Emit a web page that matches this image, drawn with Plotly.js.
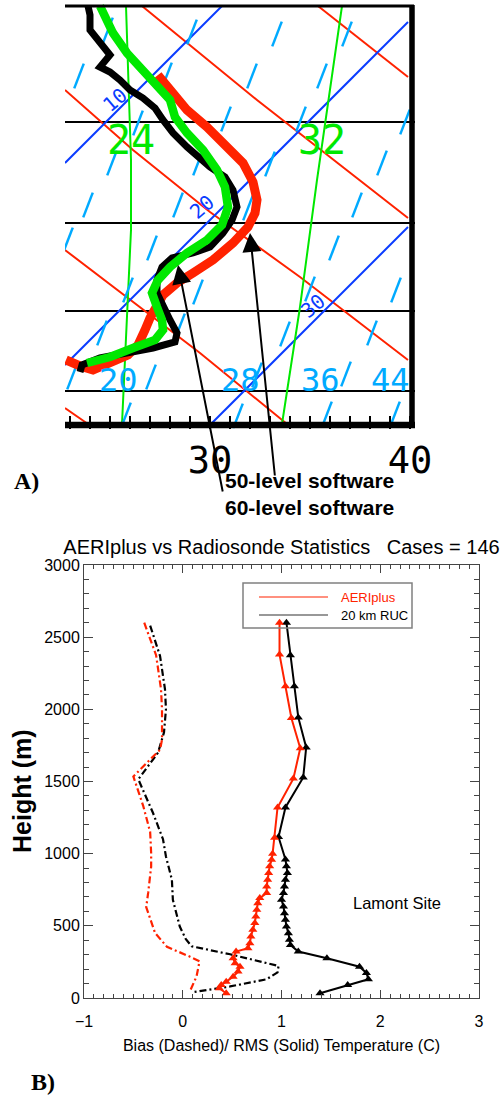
<!DOCTYPE html>
<html><head><meta charset="utf-8">
<script src="https://cdn.plot.ly/plotly-3.0.1.min.js"></script>
<style>html,body{margin:0;padding:0;background:#fff}#chart{width:503px;height:1097px}</style>
</head><body><div id="chart"></div>
<script>
// ---------------- Panel A (skew-T excerpt): x = temperature units, y = chart row ----------------
const isobarRows = [122, 223, 311, 391];

const dryAdiabatT = [[26.6, 32.35, 39.9], [35.4, 39.9], [22.75, 26.15, 30.0, 34.5, 39.9], [22.75, 29.5, 33.85], [22.75, 23.9]];
const dryAdiabatY = [[6, 100, 218], [6, 77], [90, 150, 212, 277, 360], [250, 353, 424], [408, 424]];

const isothermT = [[22.75, 30.6], [22.75, 39.9], [30.0, 39.9]];
const isothermY = [[163, 6], [365, 22], [425, 227]];
const isothermLabels = ['10', '20', '30'];
const isothermLabelT = [25.25, 29.6, 35.15];
const isothermLabelY = [100, 207, 306];

const mixingT = [[25.8, 26.05, 26.05, 25.85, 25.6], [36.6, 35.35, 34.5, 33.6]];
const mixingY = [[6, 160, 230, 310, 424], [6, 180, 307, 424]];
const mixingLabels = ['24', '32'];
const mixingLabelT = [26.05, 35.6];
const mixingLabelY = [140, 140];

const dashT = [24.9, 29.1, 33.35, 36.85, 23.45, 27.85, 32.1, 35.6, 26.4, 30.8, 34.55, 39.75,
  25.1, 29.4, 33.0, 38.6, 23.9, 28.4, 31.9, 37.35, 22.9, 27.1, 36.2, 25.9, 29.4, 35.0, 39.3,
  24.6, 28.5, 33.75, 38.1, 23.1, 27.05, 32.35, 36.8, 25.8, 31.4, 35.85, 39.25];
const dashY = [30, 32, 34, 34, 76, 75, 76, 76, 123, 119, 119, 122,
  163, 163, 164, 163, 205, 205, 208, 205, 240, 248, 248, 290, 292, 289, 290,
  333, 326, 334, 333, 377, 377, 375, 374, 415, 416, 414, 414];
const dashLabels = ['20', '28', '36', '44'];
const dashLabelT = [25.4, 31.5, 35.5, 39.0];
const dashLabelY = [380, 380, 380, 380];

// profiles
const level50T = [27.4, 28.1, 28.85, 29.85, 30.85, 31.65, 32.15, 32.35, 32.25, 31.9, 31.15, 30.15, 29.15, 28.35, 27.65, 27.25, 27.0, 26.75, 26.4, 25.9, 25.0, 24.15, 23.5, 22.8];
const level50Y = [75, 92, 110, 127, 147, 163, 182, 200, 213, 227, 243, 260, 273, 283, 295, 307, 318, 330, 345, 355, 363, 370, 366, 360];

const sondeT = [23.9, 24.0, 24.0, 24.5, 25.0, 24.5, 25.0, 25.5, 26.0, 26.65, 27.25, 27.65, 28.15, 28.85, 29.4, 30.0, 30.75, 31.15, 31.35, 31.1, 30.65, 30.0, 29.15, 28.1, 27.6, 27.35, 27.35, 27.65, 28.0, 28.35, 28.25, 27.15, 25.75, 24.5, 23.6, 23.5];
const sondeY = [6, 15, 30, 43, 55, 67, 72, 80, 90, 98, 108, 120, 133, 147, 157, 167, 177, 190, 207, 220, 233, 247, 253, 258, 267, 280, 293, 307, 320, 333, 342, 348, 353, 358, 365, 372];

const level60T = [24.5, 24.85, 25.15, 25.85, 26.5, 27.35, 28.0, 28.25, 28.85, 29.65, 30.35, 30.75, 30.9, 30.6, 29.85, 28.85, 28.0, 27.4, 27.1, 27.35, 27.6, 27.65, 27.25, 26.15, 25.0, 23.85];
const level60Y = [6, 20, 33, 53, 67, 83, 100, 117, 133, 150, 170, 187, 207, 225, 240, 253, 267, 280, 293, 307, 320, 330, 340, 348, 357, 363];

// ---------------- Panel B (statistics) ----------------
const aeriRmsH = [2600, 2380, 2160, 1940, 1730, 1520, 1320, 1110, 1000, 958, 912, 866, 819, 773, 727, 692, 657, 611, 565, 519, 472, 426, 380, 345, 322, 276, 241, 217, 183, 148, 113, 90, 67, 33];
const aeriRms = [0.98, 0.98, 1.04, 1.10, 1.19, 1.12, 0.96, 0.93, 0.91, 0.90, 0.88, 0.87, 0.86, 0.85, 0.85, 0.78, 0.76, 0.75, 0.74, 0.73, 0.71, 0.69, 0.68, 0.66, 0.54, 0.51, 0.53, 0.58, 0.56, 0.51, 0.44, 0.39, 0.37, 0.44];

const rucRmsH = [2600, 2375, 2160, 1944, 1736, 1528, 1320, 1115, 960, 912, 866, 819, 773, 727, 680, 634, 588, 542, 495, 449, 403, 368, 322, 276, 217, 174, 130, 90, 33];
const rucRms = [1.05, 1.09, 1.13, 1.17, 1.25, 1.22, 1.04, 0.97, 1.04, 1.05, 1.06, 1.04, 1.03, 1.02, 1.00, 1.02, 1.03, 1.04, 1.05, 1.07, 1.08, 1.09, 1.17, 1.46, 1.79, 1.86, 1.88, 1.67, 1.39];

const aeriBiasH = [2600, 2375, 2140, 2000, 1790, 1720, 1680, 1535, 1330, 1150, 1005, 910, 730, 630, 450, 355, 287, 255, 150, 80, 42];
const aeriBias = [-0.39, -0.27, -0.22, -0.21, -0.21, -0.23, -0.29, -0.50, -0.40, -0.33, -0.32, -0.32, -0.35, -0.37, -0.28, -0.16, 0.07, 0.17, 0.14, 0.09, 0.07];

const rucBiasH = [2580, 2370, 2140, 2000, 1840, 1700, 1515, 1360, 1280, 1100, 980, 820, 680, 495, 410, 358, 303, 222, 178, 130, 80, 40];
const rucBias = [-0.33, -0.23, -0.18, -0.17, -0.19, -0.25, -0.45, -0.35, -0.30, -0.20, -0.17, -0.11, -0.10, -0.03, 0.03, 0.09, 0.48, 0.97, 0.96, 0.85, 0.48, 0.10];

const seriesNames = ['AERIplus', '20 km RUC'];

// ---------------- styles ----------------
const RED = '#ff2200', GREEN = '#00e800', BLUE = '#0a3cff', CYAN = '#00aaff';
const SANS = 'Liberation Sans, Arial, sans-serif';
const SERIF = 'Liberation Serif, Times New Roman, serif';
const MONO = 'DejaVu Sans Mono, monospace';
const W = 503, H = 1097;
const px = v => v / W, py = r => 1 - r / H;

const traces = [];
const skip = {hoverinfo: 'skip', showlegend: false, xaxis: 'x', yaxis: 'y'};
dryAdiabatT.forEach((t, i) => traces.push(Object.assign({type: 'scatter', mode: 'lines', x: t, y: dryAdiabatY[i], line: {color: RED, width: 2}}, skip)));
isothermT.forEach((t, i) => traces.push(Object.assign({type: 'scatter', mode: 'lines', x: t, y: isothermY[i], line: {color: BLUE, width: 2}}, skip)));
mixingT.forEach((t, i) => traces.push(Object.assign({type: 'scatter', mode: 'lines', x: t, y: mixingY[i], line: {color: GREEN, width: 2}}, skip)));
traces.push(Object.assign({type: 'scatter', mode: 'markers', x: dashT, y: dashY,
  marker: {symbol: 'line-ns', size: 19, angle: 21, color: CYAN, line: {color: CYAN, width: 2.5}}}, skip));
traces.push(Object.assign({type: 'scatter', mode: 'lines', x: level50T, y: level50Y, line: {color: RED, width: 9}}, skip));
traces.push(Object.assign({type: 'scatter', mode: 'lines', x: sondeT, y: sondeY, line: {color: 'black', width: 7}}, skip));
traces.push(Object.assign({type: 'scatter', mode: 'lines', x: level60T, y: level60Y, line: {color: GREEN, width: 8.5}}, skip));

// panel B
const b = {showlegend: false, xaxis: 'x2', yaxis: 'y2', hoverinfo: 'skip'};
const dd = '7px,3px,2px,3px';
traces.push(Object.assign({type: 'scatter', mode: 'lines', name: seriesNames[1] + ' bias', x: rucBias, y: rucBiasH, line: {color: 'black', width: 2.2, dash: dd}}, b));
traces.push(Object.assign({type: 'scatter', mode: 'lines', name: seriesNames[0] + ' bias', x: aeriBias, y: aeriBiasH, line: {color: RED, width: 2.2, dash: dd}}, b));
traces.push(Object.assign({type: 'scatter', mode: 'lines+markers', name: seriesNames[1], x: rucRms, y: rucRmsH, line: {color: 'black', width: 2}, marker: {symbol: 'triangle-up', size: 8, color: 'black'}}, b));
traces.push(Object.assign({type: 'scatter', mode: 'lines+markers', name: seriesNames[0], x: aeriRms, y: aeriRmsH, line: {color: RED, width: 2}, marker: {symbol: 'triangle-up', size: 8, color: RED}}, b));

const annotations = [];
mixingLabels.forEach((s, i) => annotations.push({xref: 'x', yref: 'y', x: mixingLabelT[i], y: mixingLabelY[i], text: s, showarrow: false, font: {family: MONO, size: 40, color: GREEN}}));
dashLabels.forEach((s, i) => annotations.push({xref: 'x', yref: 'y', x: dashLabelT[i], y: dashLabelY[i], text: s, showarrow: false, font: {family: MONO, size: 32, color: CYAN}}));
isothermLabels.forEach((s, i) => annotations.push({xref: 'x', yref: 'y', x: isothermLabelT[i], y: isothermLabelY[i], text: s, showarrow: false, textangle: -40, font: {family: MONO, size: 20, color: BLUE}}));
annotations.push({xref: 'x', yref: 'y', x: 28.4, y: 265, axref: 'x', ayref: 'y', ax: 30.65, ay: 493, text: '', showarrow: true, arrowhead: 2, arrowsize: 1.9, arrowwidth: 2, arrowcolor: 'black'});
annotations.push({xref: 'x', yref: 'y', x: 32.0, y: 233, axref: 'x', ayref: 'y', ax: 33.25, ay: 477, text: '', showarrow: true, arrowhead: 2, arrowsize: 1.9, arrowwidth: 2, arrowcolor: 'black'});
annotations.push({xref: 'paper', yref: 'paper', x: px(223), y: py(481), xanchor: 'left', yanchor: 'middle', text: '50-level software', showarrow: false, font: {family: SANS, size: 21, weight: 'bold', color: 'black'}});
annotations.push({xref: 'paper', yref: 'paper', x: px(223), y: py(507), xanchor: 'left', yanchor: 'middle', text: '60-level software', showarrow: false, font: {family: SANS, size: 21, weight: 'bold', color: 'black'}});
annotations.push({xref: 'paper', yref: 'paper', x: px(26.5), y: py(481), xanchor: 'center', yanchor: 'middle', text: 'A)', showarrow: false, font: {family: SERIF, size: 24, weight: 'bold', color: 'black'}});
annotations.push({xref: 'paper', yref: 'paper', x: px(43), y: py(1082), xanchor: 'center', yanchor: 'middle', text: 'B)', showarrow: false, font: {family: SERIF, size: 24, weight: 'bold', color: 'black'}});
annotations.push({xref: 'x2', yref: 'y2', x: 2.17, y: 660, text: 'Lamont Site', showarrow: false, font: {family: SANS, size: 16.5, color: 'black'}});
// y-axis title of panel B (placed off-centre as in the original)
annotations.push({xref: 'paper', yref: 'paper', x: px(22), y: py(791), xanchor: 'center', yanchor: 'middle', text: 'Height (m)', textangle: -90, showarrow: false, font: {family: SANS, size: 25, weight: 'bold', color: 'black'}});
// legend (drawn manually to match the boxed IDL legend)
annotations.push({xref: 'paper', yref: 'paper', x: px(339), y: py(597), xanchor: 'left', yanchor: 'middle', text: seriesNames[0], showarrow: false, font: {family: SANS, size: 13, color: RED}});
annotations.push({xref: 'paper', yref: 'paper', x: px(339), y: py(615), xanchor: 'left', yanchor: 'middle', text: seriesNames[1], showarrow: false, font: {family: SANS, size: 13, color: 'black'}});

const shapes = [
  // panel A frame
  {type: 'line', xref: 'paper', yref: 'paper', x0: px(65), x1: px(414), y0: py(6), y1: py(6), line: {color: 'black', width: 3}},
  {type: 'line', xref: 'paper', yref: 'paper', x0: px(412), x1: px(412), y0: py(5), y1: py(428), line: {color: 'black', width: 5.5}},
  {type: 'line', xref: 'paper', yref: 'paper', x0: px(65), x1: px(415), y0: py(425), y1: py(425), line: {color: 'black', width: 6.5}},
  // legend box & keys
  {type: 'rect', xref: 'paper', yref: 'paper', x0: px(243), x1: px(412), y0: py(628), y1: py(583), line: {color: '#808080', width: 1.5}, fillcolor: 'rgba(0,0,0,0)'},
  {type: 'line', xref: 'paper', yref: 'paper', x0: px(259), x1: px(328), y0: py(597), y1: py(597), line: {color: RED, width: 1.2}},
  {type: 'line', xref: 'paper', yref: 'paper', x0: px(259), x1: px(328), y0: py(615), y1: py(615), line: {color: '#333', width: 1.2}}
];

const axB = {showline: true, mirror: 'ticks', linecolor: '#444', linewidth: 1, ticks: 'inside', tickcolor: '#444', tickwidth: 1,
  showgrid: false, zeroline: false, tickfont: {family: SANS, size: 16, color: 'black'}};

const layout = {
  width: W, height: H, margin: {l: 0, r: 0, t: 0, b: 0}, paper_bgcolor: 'white', plot_bgcolor: 'rgba(0,0,0,0)', showlegend: false,
  title: {text: 'AERIplus vs Radiosonde Statistics\u00a0\u00a0\u00a0Cases = 146', xref: 'paper', yref: 'paper', x: px(281.5), y: py(547), xanchor: 'center', yanchor: 'middle', font: {family: SANS, size: 20, color: 'black'}},
  xaxis: {domain: [px(65), px(415)], range: [22.75, 40.25], anchor: 'y', ticks: 'inside', ticklen: 13, tickwidth: 2, tickcolor: 'black', dtick: 10, tick0: 0,
    minor: {dtick: 1, ticks: 'inside', ticklen: 13, tickwidth: 2, tickcolor: 'black', showgrid: false},
    ticklabelstandoff: 6,
    showline: false, showgrid: false, zeroline: false, tickfont: {family: MONO, size: 37, color: 'black'}},
  yaxis: {domain: [py(428.5), py(4)], range: [428.5, 4], anchor: 'x', showticklabels: false, ticks: '', tickvals: isobarRows,
    showgrid: true, gridcolor: 'black', gridwidth: 2, zeroline: false, showline: false},
  xaxis2: Object.assign({}, axB, {domain: [px(84), px(479)], range: [-1, 3], anchor: 'y2', dtick: 1, ticklen: 8,
    minor: {dtick: 0.1, ticks: 'inside', ticklen: 4, tickcolor: '#444', tickwidth: 1},
    ticklabelstandoff: 9,
    title: {text: 'Bias (Dashed)/ RMS (Solid) Temperature (C)', font: {family: SANS, size: 16, color: 'black'}, standoff: 10}}),
  yaxis2: Object.assign({}, axB, {domain: [py(998), py(565)], range: [0, 3000], anchor: 'x2', dtick: 500, ticklen: 9,
    minor: {dtick: 100, ticks: 'inside', ticklen: 5, tickcolor: '#444', tickwidth: 1}}),
  annotations: annotations, shapes: shapes
};

Plotly.newPlot('chart', traces, layout, {displayModeBar: false, staticPlot: true});
</script></body></html>
